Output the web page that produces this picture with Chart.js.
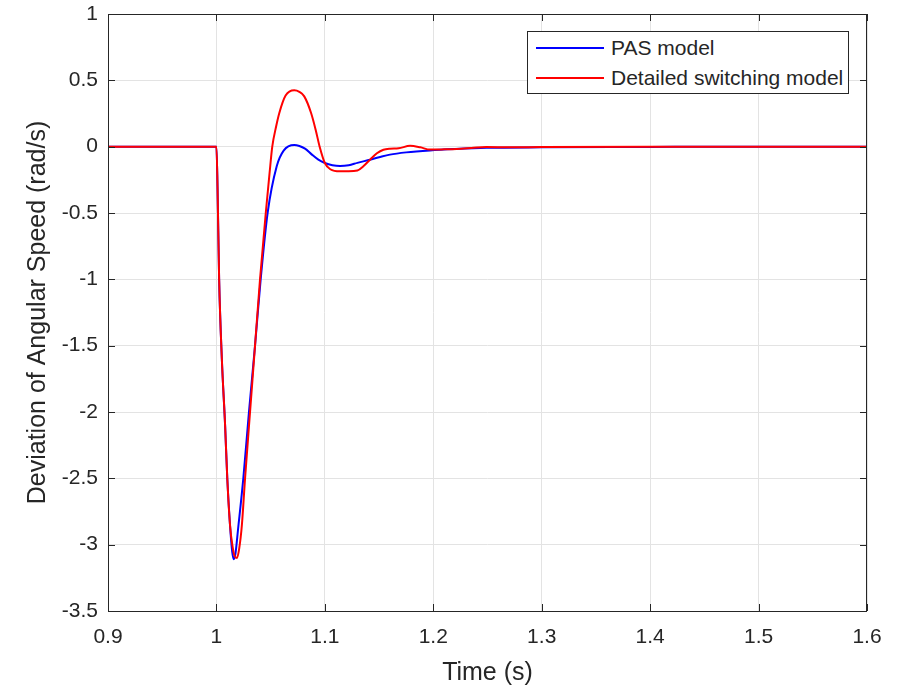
<!DOCTYPE html>
<html>
<head>
<meta charset="utf-8">
<script src="https://cdn.jsdelivr.net/npm/chart.js@4/dist/chart.umd.min.js"></script>
<style>
  html, body { margin: 0; padding: 0; background: #fff; }
  #wrap { position: relative; width: 908px; height: 690px; }
  #legend {
    position: absolute; left: 527px; top: 31px; width: 320px; height: 61px;
    border: 1px solid #262626; background: #fff;
    font-family: 'Liberation Sans', Arial, sans-serif; font-size: 21px; color: #262626;
  }
  .row { position: absolute; left: 0; height: 26px; display: flex; align-items: center; }
  .swatch { width: 68px; height: 2px; margin-left: 8px; margin-right: 7px; }
</style>
</head>
<body>
<div id="wrap">
  <canvas id="c" width="908" height="690"></canvas>
  <div id="legend">
    <div class="row" style="top:3px"><span class="swatch" style="background:#0000ff"></span>PAS model</div>
    <div class="row" style="top:33px"><span class="swatch" style="background:#ff0000"></span>Detailed switching model</div>
  </div>
</div>
<script>
// ── Data ──────────────────────────────────────────────────────────────────────
const timePAS  = [0.9, 1.0, 1.001, 1.0025, 1.005, 1.008, 1.010, 1.0125, 1.0145, 1.016, 1.0175, 1.020,
                  1.0248, 1.030, 1.0356, 1.0408, 1.0472, 1.0556, 1.062, 1.0718, 1.0765, 1.0817,
                  1.0878, 1.094, 1.100, 1.107, 1.114, 1.122, 1.13, 1.1417, 1.15, 1.160, 1.175, 1.197,
                  1.22, 1.249, 1.3, 1.4, 1.47, 1.6];
const speedPAS = [0, 0, -0.3, -1.0, -1.6, -2.1, -2.5, -2.85, -3.05, -3.11, -3.07, -2.88,
                  -2.5, -2.0, -1.5, -1.0, -0.5, -0.148, -0.03, 0.012, 0.005, -0.015,
                  -0.058, -0.098, -0.123, -0.14, -0.146, -0.14, -0.122, -0.098, -0.08, -0.06, -0.043, -0.028,
                  -0.018, -0.009, -0.005, -0.002, 0, 0];

const timeDSM  = [0.9, 1.0, 1.001, 1.0025, 1.005, 1.008, 1.010, 1.0125, 1.015, 1.017, 1.019, 1.021,
                  1.0235, 1.0264, 1.031, 1.0356, 1.0402, 1.0455, 1.049, 1.0515, 1.055, 1.058, 1.0638, 1.0718,
                  1.0765, 1.081, 1.0873, 1.0915, 1.0952, 1.100, 1.105, 1.114, 1.122, 1.13, 1.1355, 1.1417, 1.148,
                  1.154, 1.160, 1.168, 1.1786, 1.188, 1.197, 1.21, 1.2217, 1.235, 1.249, 1.27, 1.3, 1.4, 1.6];
const speedDSM = [0, 0, -0.3, -1.0, -1.6, -2.1, -2.5, -2.85, -3.02, -3.09, -3.10, -3.03,
                  -2.85, -2.5, -2.0, -1.5, -1.0, -0.5, -0.2, 0.0, 0.15, 0.254, 0.385, 0.425,
                  0.413, 0.379, 0.254, 0.128, 0.0, -0.123, -0.17, -0.186, -0.186, -0.18, -0.148, -0.098, -0.05,
                  -0.023, -0.015, -0.012, 0.006, -0.005, -0.022, -0.02, -0.017, -0.01, -0.002, -0.005, -0.003, 0, 0];

const xTicks = [0.9, 1.0, 1.1, 1.2, 1.3, 1.4, 1.5, 1.6];
const yTicks = [1, 0.5, 0, -0.5, -1, -1.5, -2, -2.5, -3, -3.5];

const FONT = "'Liberation Sans', Arial, sans-serif";
const INK  = '#262626';

const toPoints = (xs, ys) => xs.map((x, i) => ({ x, y: ys[i] }));

// MATLAB-style box with inward ticks
const boxPlugin = {
  id: 'box',
  afterDraw(chart) {
    const { ctx, chartArea: a, scales } = chart;
    ctx.save();
    ctx.strokeStyle = INK;
    ctx.lineWidth = 1;
    ctx.strokeRect(a.left + 0.5, a.top + 0.5, a.right - a.left - 1, a.bottom - a.top);
    ctx.beginPath();
    xTicks.forEach(v => {
      const px = Math.round(scales.x.getPixelForValue(v)) + 0.5;
      ctx.moveTo(px, a.bottom); ctx.lineTo(px, a.bottom - 7);
      ctx.moveTo(px, a.top); ctx.lineTo(px, a.top + 7);
    });
    yTicks.forEach(v => {
      const py = Math.round(scales.y.getPixelForValue(v)) + 0.5;
      ctx.moveTo(a.left, py); ctx.lineTo(a.left + 7, py);
      ctx.moveTo(a.right, py); ctx.lineTo(a.right - 7, py);
    });
    ctx.stroke();
    ctx.restore();
  }
};

new Chart(document.getElementById('c'), {
  type: 'line',
  data: {
    datasets: [
      {
        label: 'PAS model',
        data: toPoints(timePAS, speedPAS),
        borderColor: '#0000ff',
        borderWidth: 2,
        pointRadius: 0,
        cubicInterpolationMode: 'monotone',
        order: 1,
      },
      {
        label: 'Detailed switching model',
        data: toPoints(timeDSM, speedDSM),
        borderColor: '#ff0000',
        borderWidth: 2,
        pointRadius: 0,
        cubicInterpolationMode: 'monotone',
        order: 0,
      }
    ]
  },
  options: {
    responsive: false,
    animation: false,
    layout: { padding: { top: 14, right: 41, bottom: 0, left: 0 } },
    plugins: { legend: { display: false }, tooltip: { enabled: false } },
    scales: {
      x: {
        type: 'linear',
        min: 0.9, max: 1.6,
        afterBuildTicks: s => { s.ticks = xTicks.map(v => ({ value: v })); },
        afterFit: s => { s.height = 79; s.paddingLeft = 0; s.paddingRight = 0; },
        ticks: {
          color: INK, font: { family: FONT, size: 21 }, padding: 14,
          callback: v => String(Math.round(v * 10) / 10),
        },
        grid: { color: '#e3e3e3', drawTicks: false },
        border: { display: false },
        title: { display: true, text: 'Time (s)', color: INK, font: { family: FONT, size: 25 }, padding: { top: 0, bottom: 2 } },
      },
      y: {
        min: -3.5, max: 1,
        afterBuildTicks: s => { s.ticks = yTicks.map(v => ({ value: v })); },
        afterFit: s => { s.width = 108; s.paddingTop = 0; s.paddingBottom = 0; },
        ticks: {
          color: INK, font: { family: FONT, size: 21 }, padding: 10,
          callback: v => String(v),
        },
        grid: { color: '#e3e3e3', drawTicks: false },
        border: { display: false },
        title: { display: true, text: 'Deviation of Angular Speed (rad/s)', color: INK, font: { family: FONT, size: 25 }, padding: { top: 23, bottom: 0 } },
      }
    }
  },
  plugins: [boxPlugin]
});
</script>
</body>
</html>
